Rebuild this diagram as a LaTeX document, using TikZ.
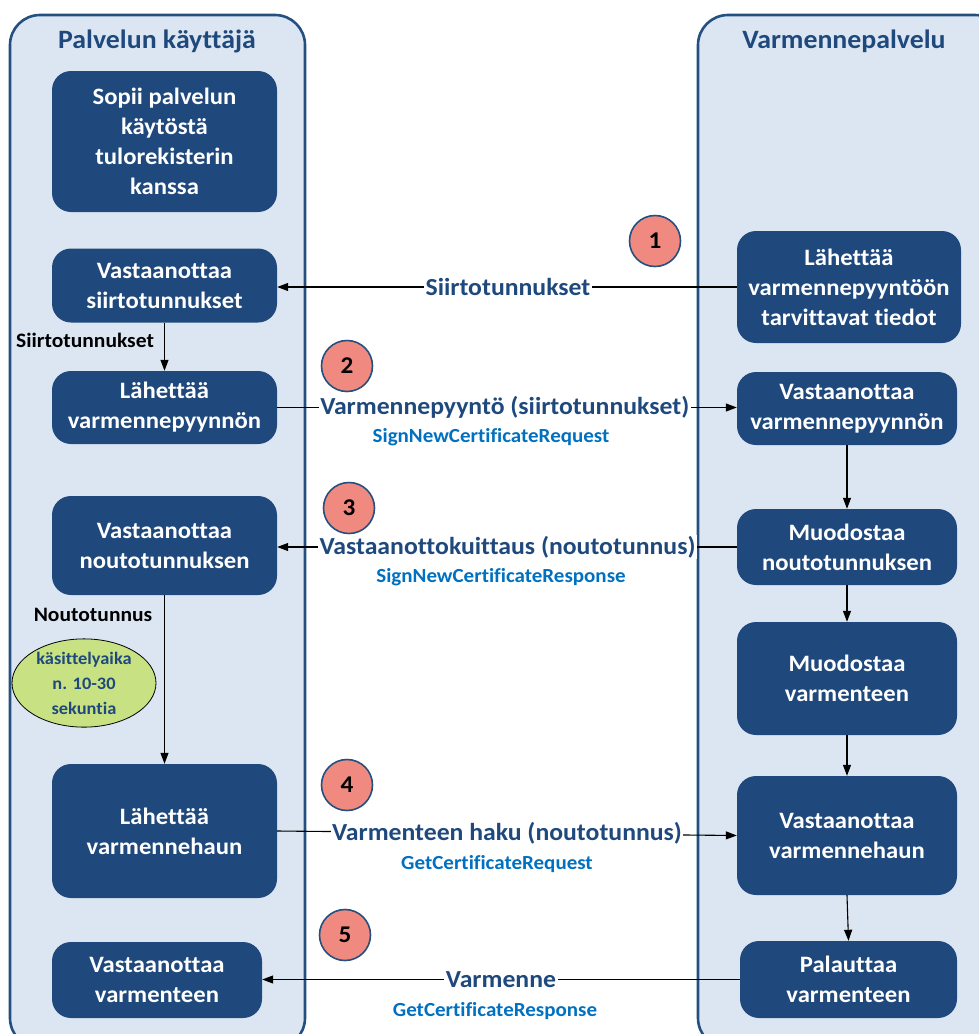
\documentclass[tikz,border=0pt]{standalone}
\usepackage{fontspec}
\setmainfont{Carlito}[FakeStretch=1.05,Ligatures=NoCommon]
\usetikzlibrary{arrows.meta,shapes.geometric}
\definecolor{boxblue}{HTML}{1F497D}
\definecolor{lanefill}{HTML}{DCE6F2}
\definecolor{laneborder}{HTML}{24507F}
\definecolor{numred}{HTML}{F08A80}
\definecolor{ellgreen}{HTML}{C8E283}
\definecolor{apiblue}{HTML}{0070C0}
\begin{document}
\begin{tikzpicture}[x=1pt,y=-1pt,
  lane/.style={draw=laneborder,line width=2.6pt,fill=lanefill,rounded corners=30pt},
  box/.style={rectangle,rounded corners=19pt,fill=boxblue,text=white,font=\fontsize{23.5}{30}\selectfont\bfseries,align=center,inner sep=2pt},
  lanetitle/.style={text=boxblue,font=\fontsize{26.5}{30}\selectfont\bfseries},
  msg/.style={text=boxblue,font=\fontsize{24.5}{28}\selectfont\bfseries,fill=white,inner sep=1.5pt},
  api/.style={text=apiblue,font=\fontsize{20}{24}\selectfont\bfseries},
  side/.style={text=black,font=\fontsize{20.5}{24}\selectfont\bfseries},
  num/.style={circle,draw=laneborder,line width=1.6pt,fill=numred,minimum size=51pt,inner sep=0pt,font=\fontsize{24}{28}\selectfont\bfseries},
  arr/.style={draw=black,line width=1.1pt,-{Triangle[length=11pt,width=8pt]}}
]
\useasboundingbox (0,0) rectangle (978,1034);
% lanes
\draw[lane] (10,15) rectangle (305,1048);
\draw[lane] (698,15) rectangle (1005,1048);
\node[lanetitle] (t1) at (157,41) {Palvelun käyttäjä};
\node[lanetitle] (t2) at (844,41) {Varmennepalvelu};

% left boxes
\node[box,minimum width=225pt,minimum height=141pt] (b1) at (164.5,141.5) {Sopii palvelun\\käytöstä\\tulorekisterin\\kanssa};
\node[box,minimum width=225pt,minimum height=74pt] (b2) at (164.5,285.5) {Vastaanottaa\\siirtotunnukset};
\node[box,minimum width=225pt,minimum height=73pt] (b3) at (164.5,407.5) {Lähettää\\varmennepyynnön};
\node[box,minimum width=225pt,minimum height=99pt] (b4) at (164.5,545.5) {Vastaanottaa\\noutotunnuksen};
\node[box,minimum width=225pt,minimum height=134pt] (b5) at (164.5,831) {Lähettää\\varmennehaun};
\node[box,minimum width=210pt,minimum height=76pt] (b6) at (157,980) {Vastaanottaa\\varmenteen};

% right boxes
\node[box,minimum width=224pt,minimum height=112pt] (r1) at (849,287) {Lähettää\\varmennepyyntöön\\tarvittavat tiedot};
\node[box,minimum width=220pt,minimum height=73pt] (r2) at (847,408.5) {Vastaanottaa\\varmennepyynnön};
\node[box,minimum width=220pt,minimum height=76pt] (r3) at (847,547) {Muodostaa\\noutotunnuksen};
\node[box,minimum width=220pt,minimum height=113pt] (r4) at (847,678.5) {Muodostaa\\varmenteen};
\node[box,minimum width=220pt,minimum height=119pt] (r5) at (847,835.5) {Vastaanottaa\\varmennehaun};
\node[box,minimum width=217pt,minimum height=77pt] (r6) at (848.5,979.5) {Palauttaa\\varmenteen};

% number circles
\node[num] (n1) at (655,241) {1};
\node[num] (n2) at (347,366) {2};
\node[num] (n3) at (349,508) {3};
\node[num] (n4) at (347,785) {4};
\node[num] (n5) at (345,935) {5};

% vertical arrows
\draw[arr] (b2.south) -- (b3.north);
\node[side] (s1) at (85,340) {Siirtotunnukset};
\draw[arr] (b4.south) -- (b5.north);
\node[side] (s2) at (93,615) {Noutotunnus};
\node[ellipse,draw=black,line width=0.8pt,fill=ellgreen,minimum width=144pt,minimum height=88pt,inner sep=0pt,align=center,text=boxblue,font=\fontsize{17.5}{25}\selectfont\bfseries] (el) at (84,683) {käsittelyaika\\n. 10-30\\sekuntia};

\draw[arr] (r2.south) -- (r3.north);
\draw[arr] (r3.south) -- (r4.north);
\draw[arr] (r4.south) -- (r5.north);
\draw[arr] (r5.south) -- (r6.north);

% horizontal messages
\draw[arr] (r1.west) -- (r1.west -| b2.east) node[msg,pos=0.498] (m1) {Siirtotunnukset};
\draw[arr] (b3.east) -- (b3.east -| r2.west) node[msg,pos=0.495] (m2) {Varmennepyyntö (siirtotunnukset)};
\node[api] (a2) at (491,437) {SignNewCertificateRequest};
\draw[arr] (r3.west) -- (r3.west -| b4.east) node[msg,pos=0.499] (m3) {Vastaanottokuittaus (noutotunnus)};
\node[api] (a3) at (501,577) {SignNewCertificateResponse};
\draw[arr] (b5.east) -- (r5.west) node[msg,pos=0.5] (m4) {Varmenteen haku (noutotunnus)};
\node[api] (a4) at (497,864) {GetCertificateRequest};
\draw[arr] (r6.west) -- (r6.west -| b6.east) node[msg,pos=0.5] (m5) {Varmenne};
\node[api] (a5) at (495,1011) {GetCertificateResponse};
\end{tikzpicture}
\end{document}
